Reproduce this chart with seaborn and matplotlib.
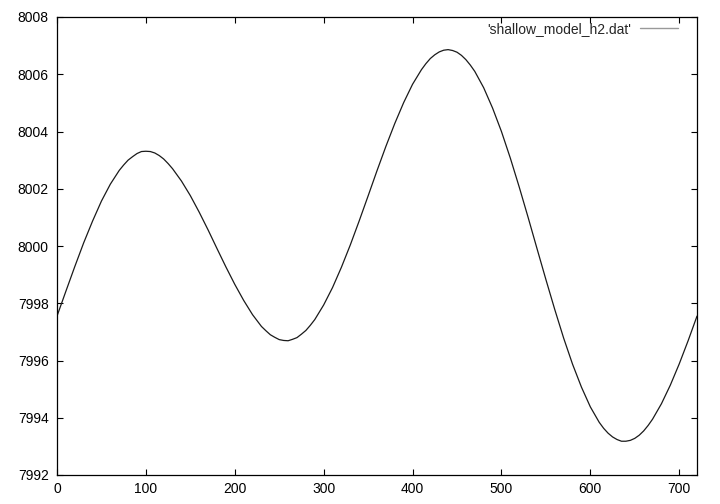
import matplotlib
matplotlib.use("Agg")
import matplotlib.pyplot as plt
import seaborn as sns
import pandas as pd

# x positions and h values (denser around the turning points)
x_values = [0, 10, 20, 30, 40, 50, 60, 70, 75, 80, 85, 90, 95,
            100, 105, 110, 115, 120, 125, 130, 140, 150, 160, 170, 180, 190,
            200, 210, 220, 230, 235, 240, 245, 250, 255, 260, 265, 270, 275, 280, 285, 290,
            300, 310, 320, 330, 340, 350, 360, 370, 380, 390,
            400, 410, 415, 420, 425, 430, 435, 440, 445, 450, 455, 460, 465, 470, 480, 490,
            500, 510, 520, 530, 540, 550, 560, 570, 580, 590,
            600, 610, 615, 620, 625, 630, 635, 640, 645, 650, 655, 660, 665, 670, 680, 690,
            700, 710, 720]
h_values = [7997.55, 7998.42, 7999.28, 8000.11, 8000.87, 8001.57, 8002.16, 8002.64, 8002.83, 8003.00, 8003.12, 8003.23, 8003.30,
            8003.31, 8003.30, 8003.25, 8003.16, 8003.04, 8002.88, 8002.70, 8002.27, 8001.76, 8001.18, 8000.56, 7999.91, 7999.27,
            7998.66, 7998.10, 7997.60, 7997.19, 7997.04, 7996.90, 7996.81, 7996.73, 7996.70, 7996.69, 7996.74, 7996.80, 7996.92, 7997.05, 7997.23, 7997.43,
            7997.94, 7998.55, 7999.26, 8000.04, 8000.88, 8001.75, 8002.63, 8003.48, 8004.28, 8005.01,
            8005.65, 8006.16, 8006.37, 8006.55, 8006.68, 8006.78, 8006.84, 8006.86, 8006.83, 8006.77, 8006.66, 8006.51, 8006.32, 8006.10, 8005.53, 8004.82,
            8004.00, 8003.07, 8002.06, 8001.00, 7999.91, 7998.83, 7997.78, 7996.78, 7995.87, 7995.07,
            7994.38, 7993.84, 7993.63, 7993.46, 7993.33, 7993.24, 7993.18, 7993.18, 7993.21, 7993.28, 7993.39, 7993.54, 7993.73, 7993.95, 7994.49, 7995.14,
            7995.88, 7996.69, 7997.55]
series_label = "'shallow_model_h2.dat'"
x_ticks = [0, 100, 200, 300, 400, 500, 600, 700]
y_ticks = [7992, 7994, 7996, 7998, 8000, 8002, 8004, 8006, 8008]

sns.set_style("ticks")
plt.rcParams['font.family'] = ['Liberation Sans', 'DejaVu Sans']

df = pd.DataFrame({"x": x_values, "h": h_values, "series": series_label})

fig = plt.figure(figsize=(7.2, 5.04), dpi=100)
ax = fig.add_axes([57 / 720, 29 / 504, 640 / 720, 458 / 504])

sns.lineplot(data=df, x="x", y="h", hue="series", palette=["#1a1a1a"],
             linewidth=0.9, ax=ax, legend=True)

ax.set_xlim(0, 720)
ax.set_ylim(7992, 8008)
ax.set_xticks(x_ticks)
ax.set_yticks(y_ticks)
ax.set_xticklabels([str(v) for v in x_ticks])
ax.set_yticklabels([str(v) for v in y_ticks])
ax.set_xlabel("")
ax.set_ylabel("")

for s in ax.spines.values():
    s.set_visible(True)
    s.set_color("black")
    s.set_linewidth(0.9)

ax.tick_params(axis="both", which="major", direction="in", length=4.3, width=0.8,
               colors="black", labelsize=10, top=True, right=True)
ax.tick_params(axis="y", pad=6.0)
ax.tick_params(axis="x", pad=5.0)

handles, labels = ax.get_legend_handles_labels()
leg = ax.legend(handles, [series_label], loc="center right",
                bbox_to_anchor=((678 - 57) / 640, (475 - 29) / 458),
                frameon=False, markerfirst=False, fontsize=10,
                handlelength=2.75, handletextpad=0.6, borderpad=0, borderaxespad=0)
for line in leg.get_lines():
    line.set_color("#999999")
    line.set_linewidth(1.0)

fig.savefig("out.png", dpi=100, facecolor="white")
